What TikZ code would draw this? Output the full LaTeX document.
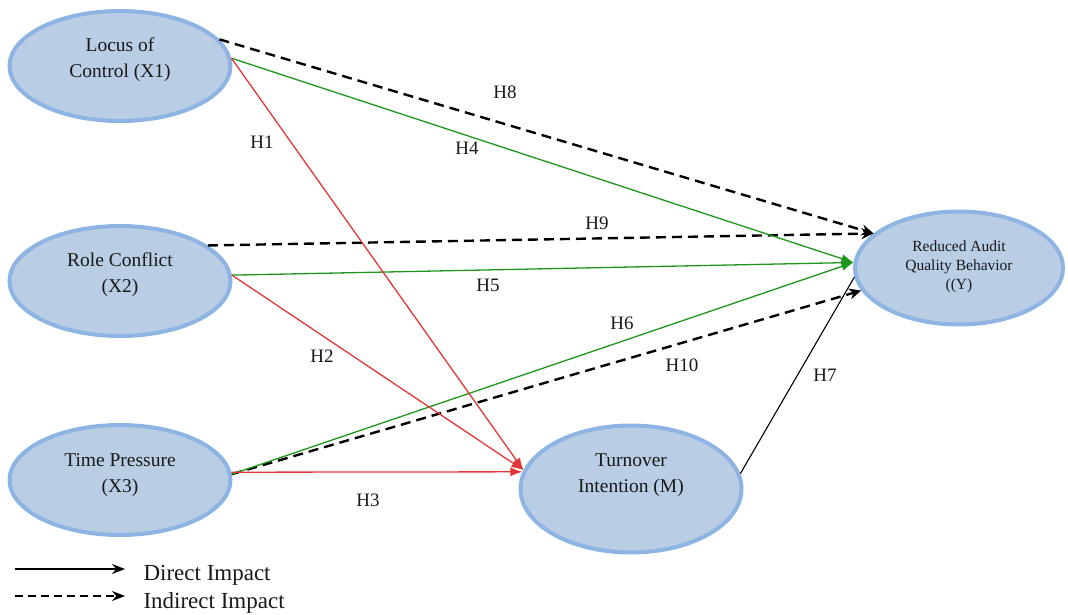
\documentclass[tikz,border=0pt]{standalone}
\usepackage{fontspec}
\setmainfont{Liberation Serif}
\usetikzlibrary{arrows.meta,shapes.geometric}
\definecolor{elfill}{RGB}{185,205,229}
\definecolor{eldraw}{RGB}{141,180,226}
\definecolor{hgreen}{RGB}{30,150,30}
\definecolor{hred}{RGB}{225,55,55}
\definecolor{txt}{RGB}{25,25,25}

\begin{document}
\begin{tikzpicture}[x=1pt,y=-1pt,
  construct/.style={ellipse,draw=eldraw,fill=elfill,line width=4pt,
    minimum width=221pt,minimum height=110pt,inner sep=0pt},
  ctext/.style={align=center,text=txt,font=\fontsize{19.5}{26}\selectfont},
  hlabel/.style={text=txt,font=\fontsize{19}{20}\selectfont},
  direct/.style={line width=1.3pt,-{Latex[length=12pt,width=9pt]}},
  indirect/.style={line width=2.4pt,dash pattern=on 10pt off 6pt,
    -{Stealth[length=12pt,width=11pt]}},
  legtext/.style={text=txt,font=\fontsize{23}{24}\selectfont,anchor=west}]
\useasboundingbox (0,0) rectangle (1068,615);

\node[construct,label={[ctext,yshift=6pt]center:Locus of\\Control (X1)}] (x1) at (120,66) {};
\node[construct,label={[ctext,yshift=6pt]center:Role Conflict\\(X2)}] (x2) at (120,281) {};
\node[construct,label={[ctext,yshift=5pt]center:Time Pressure\\(X3)}] (x3) at (120,480) {};
\node[construct,minimum height=127pt,label={[ctext,yshift=14pt]center:Turnover\\Intention (M)}] (m) at (631,489) {};
\node[construct,minimum width=208pt,minimum height=113pt,
  label={[align=center,text=txt,font=\fontsize{15.5}{19}\selectfont,yshift=1pt]center:Reduced Audit\\Quality Behavior\\((Y)}] (y) at (959,268) {};

% indirect
\draw[indirect] (x1.15) -- (y.158);
\draw[indirect] (x2.22) -- (y.158);
\draw[indirect] (x3.3) -- (y.193);
% direct to Y
\draw[direct,hgreen] (x1.4) -- (y.177);
\draw[direct,hgreen] (x2.3) -- (y.177);
\draw[direct,hgreen] (x3.3) -- (y.177);
% direct to M
\draw[direct,hred] (x1.4) -- (m.170);
\draw[direct,hred] (x2.3) -- (m.170);
\draw[direct,hred] (x3.4) -- (m.171);
\draw[line width=1.1pt] (m.8) -- (y.185);

\node[hlabel] (h1) at (262,142) {H1};
\node[hlabel] (h2) at (322,356) {H2};
\node[hlabel] (h3) at (368,500) {H3};
\node[hlabel] (h4) at (467,148) {H4};
\node[hlabel] (h5) at (488,285) {H5};
\node[hlabel] (h6) at (622,323) {H6};
\node[hlabel] (h7) at (825,375) {H7};
\node[hlabel] (h8) at (505,92) {H8};
\node[hlabel] (h9) at (597,223) {H9};
\node[hlabel] (h10) at (682,365) {H10};

% legend
\coordinate (ds) at (15,569);
\coordinate (de) at (125,569);
\coordinate (is) at (15,596);
\coordinate (ie) at (125,596);
\draw[line width=1.6pt,-{Stealth[length=13pt,width=10pt]}] (ds) -- (de);
\draw[line width=1.8pt,dash pattern=on 8pt off 5pt,-{Stealth[length=13pt,width=10pt]}] (is) -- (ie);
\node[legtext] (direct) at (140,575) {Direct Impact};
\node[legtext] (indirect) at (140,603) {Indirect Impact};
\end{tikzpicture}
\end{document}
